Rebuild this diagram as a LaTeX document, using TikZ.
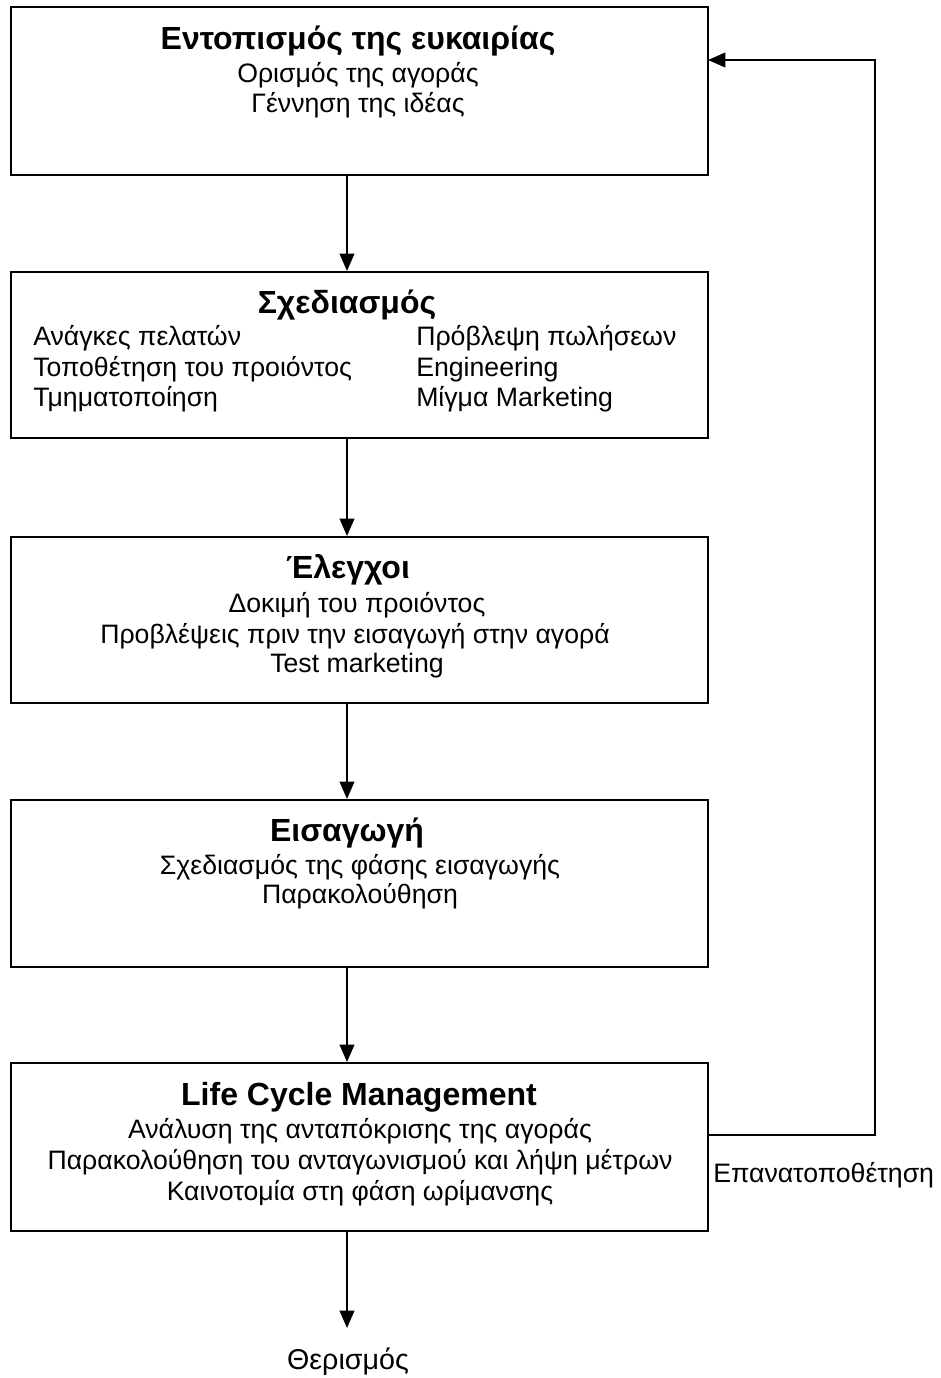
\documentclass[tikz,border=0pt]{standalone}
\usepackage{fontspec}
\setmainfont{Liberation Sans}
\usetikzlibrary{arrows.meta,fit}
\tikzset{
  stage/.style={draw, line width=1.5pt, inner sep=0pt, rectangle},
  ttl/.style={anchor=base, inner sep=0pt, font=\fontsize{24}{28}\selectfont\bfseries},
  txt/.style={anchor=base, inner sep=0pt, font=\fontsize{20}{24}\selectfont},
  txtl/.style={txt, anchor=base west},
  flow/.style={line width=1.2pt, -{Triangle[length=13pt,width=11pt]}},
}
\begin{document}
\begin{tikzpicture}[x=0.75pt,y=-0.75pt]
\useasboundingbox (0,0) rectangle (941,1378);

% stage boxes
\node[stage, fit={(11,7) (708,175)}] (b1) {};
\node[stage, fit={(11,272) (708,438)}] (b2) {};
\node[stage, fit={(11,537) (708,703)}] (b3) {};
\node[stage, fit={(11,800) (708,967)}] (b4) {};
\node[stage, fit={(11,1063) (708,1231)}] (b5) {};

% box 1
\node[ttl] (t1) at (358,49) {Εντοπισμός της ευκαιρίας};
\node[txt] (t1a) at (358,82) {Ορισμός της αγοράς};
\node[txt] (t1b) at (358,112) {Γέννηση της ιδέας};

% box 2
\node[ttl] (t2) at (347,313) {Σχεδιασμός};
\node[txtl] (t2a) at (33,345) {Ανάγκες πελατών};
\node[txtl] (t2b) at (33,376) {Τοποθέτηση του προιόντος};
\node[txtl] (t2c) at (33,406) {Τμηματοποίηση};
\node[txtl] (t2d) at (416,345) {Πρόβλεψη πωλήσεων};
\node[txtl] (t2e) at (416,376) {Engineering};
\node[txtl] (t2f) at (416,406) {Μίγμα Marketing};

% box 3
\node[ttl] (t3) at (348,578) {Έλεγχοι};
\node[txt] (t3a) at (357,612) {Δοκιμή του προιόντος};
\node[txt] (t3b) at (355,643) {Προβλέψεις πριν την εισαγωγή στην αγορά};
\node[txt] (t3c) at (357,672) {Test marketing};

% box 4
\node[ttl] (t4) at (347,841) {Εισαγωγή};
\node[txt] (t4a) at (360,874) {Σχεδιασμός της φάσης εισαγωγής};
\node[txt] (t4b) at (360,903) {Παρακολούθηση};

% box 5
\node[ttl] (t5) at (359,1105) {Life Cycle Management};
\node[txt] (t5a) at (360,1138) {Ανάλυση της ανταπόκρισης της αγοράς};
\node[txt] (t5b) at (360,1169) {Παρακολούθηση του ανταγωνισμού και λήψη μέτρων};
\node[txt] (t5c) at (360,1200) {Καινοτομία στη φάση ωρίμανσης};

% outer labels
\node[txtl] (rep) at (713,1182) {Επανατοποθέτηση};
\node[txt, font=\fontsize{21.5}{25}\selectfont] (end) at (348,1369) {Θερισμός};
\coordinate (endtip) at (347,1328);

% main flow
\draw[flow] (b1.south -| endtip) -- (b2.north -| endtip);
\draw[flow] (b2.south -| endtip) -- (b3.north -| endtip);
\draw[flow] (b3.south -| endtip) -- (b4.north -| endtip);
\draw[flow] (b4.south -| endtip) -- (b5.north -| endtip);
\draw[flow] (b5.south -| endtip) -- (endtip);

% feedback loop
\coordinate (fbout) at (708,1135);
\coordinate (fbin) at (708,60);
\draw[flow] (fbout) -- (875,1135) -- (875,60) -- (fbin);
\end{tikzpicture}
\end{document}
